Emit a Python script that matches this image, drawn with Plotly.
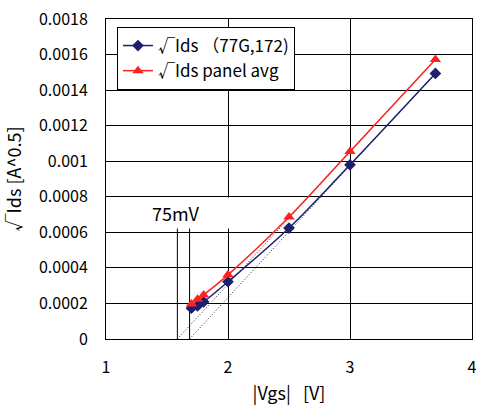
import plotly.graph_objects as go

# Data
vgs = [1.7, 1.75, 1.8, 2.0, 2.5, 3.0, 3.7]
sqrt_ids_77g = [0.000173, 0.000186, 0.000209, 0.000322, 0.000624, 0.000980, 0.001494]
sqrt_ids_avg = [0.000197, 0.000223, 0.000248, 0.000361, 0.000686, 0.001055, 0.001572]

# Linear extrapolation (tangent) lines: x-intercept -> last point
vth_avg = 1.585
vth_77g = 1.685
tan_avg_x = [vth_avg, vgs[-1]]
tan_avg_y = [0.0, sqrt_ids_avg[-1]]
tan_77g_x = [vth_77g, vgs[-1]]
tan_77g_y = [0.0, sqrt_ids_77g[-1]]

# Marker lines for threshold difference
vline_top = 0.00067
label_text = "75mV"
label_y = 0.00071

y_ticks = [0, 0.0002, 0.0004, 0.0006, 0.0008, 0.001, 0.0012, 0.0014, 0.0016, 0.0018]
y_ticktext = ["0", "0.0002", "0.0004", "0.0006", "0.0008", "0.001", "0.0012", "0.0014", "0.0016", "0.0018"]
x_ticks = [1, 2, 3, 4]

FONT = "Noto Sans CJK JP"
BLUE = "#1e1e6e"
RED = "#ff2020"

fig = go.Figure()

# tangent dotted lines
for tx, ty in [(tan_avg_x, tan_avg_y), (tan_77g_x, tan_77g_y)]:
    fig.add_trace(go.Scatter(x=tx, y=ty, mode="lines",
                             line=dict(color="#222222", width=1, dash="1px,2px"),
                             showlegend=False, hoverinfo="skip"))
# vertical marker lines
for vx in [vth_avg, vth_77g]:
    fig.add_trace(go.Scatter(x=[vx, vx], y=[0, vline_top], mode="lines",
                             line=dict(color="black", width=1),
                             showlegend=False, hoverinfo="skip"))

fig.add_trace(go.Scatter(x=vgs, y=sqrt_ids_77g, mode="lines+markers",
                         name="√Ids （77G,172)",
                         line=dict(color=BLUE, width=1.5, shape="spline"),
                         marker=dict(symbol="diamond", size=9, color=BLUE)))
fig.add_trace(go.Scatter(x=vgs, y=sqrt_ids_avg, mode="lines+markers",
                         name="√Ids panel avg",
                         line=dict(color=RED, width=1.5, shape="spline"),
                         marker=dict(symbol="triangle-up", size=10, color=RED)))

fig.add_annotation(x=vth_77g, y=label_y, text=label_text, showarrow=False,
                   xanchor="center", yanchor="middle", width=76, height=28,
                   align="left", bgcolor="white",
                   font=dict(family=FONT, size=18, color="black"))

fig.update_layout(
    width=479, height=406,
    margin=dict(l=106, r=7, t=19, b=67, autoexpand=False),
    paper_bgcolor="white", plot_bgcolor="white",
    font=dict(family=FONT, size=16, color="black"),
    legend=dict(x=0.03, y=0.975, xanchor="left", yanchor="top",
                bgcolor="white", bordercolor="black", borderwidth=1,
                font=dict(family=FONT, size=17), tracegroupgap=0),
    xaxis=dict(range=[1, 4], tickvals=x_ticks, showgrid=True, gridcolor="black",
               gridwidth=1, showline=True, linecolor="black", linewidth=1, mirror=True,
               ticks="", zeroline=False, ticklabelstandoff=14, ticklabeloverflow="allow",
               automargin=False,
               title=dict(text="|Vgs|   [V]", font=dict(family=FONT, size=18), standoff=10)),
    yaxis=dict(range=[0, 0.0018], tickvals=y_ticks, ticktext=y_ticktext,
               showgrid=True, gridcolor="black", gridwidth=1,
               showline=True, linecolor="black", linewidth=1, mirror=True,
               ticks="", zeroline=False, ticklabelstandoff=14, ticklabeloverflow="allow",
               automargin=False,
               title=dict(text="√Ids [A^0.5]", font=dict(family=FONT, size=18), standoff=12)),
)

fig.write_html("out.html", config={"displayModeBar": False},
               post_script="document.body.style.margin='0';document.body.style.overflow='hidden';")
